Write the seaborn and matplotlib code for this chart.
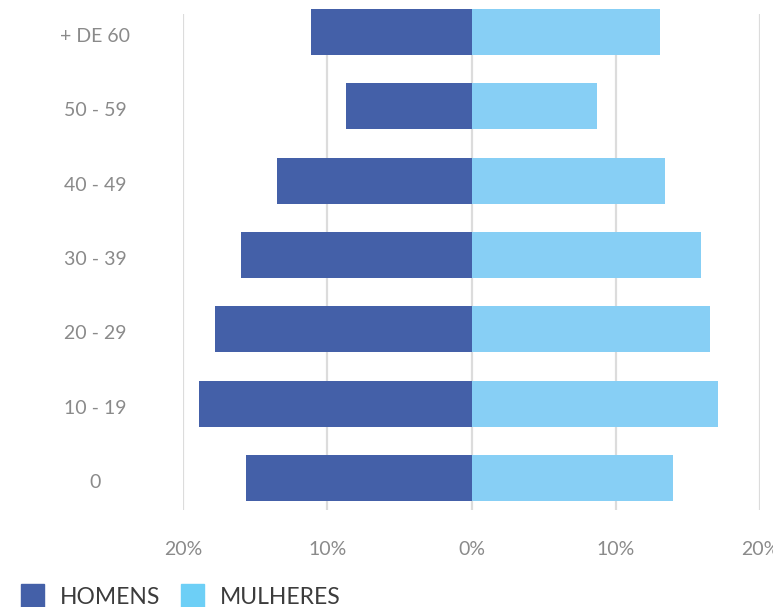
import matplotlib
matplotlib.use("Agg")
import matplotlib.pyplot as plt
from matplotlib.patches import Patch
from matplotlib.ticker import FuncFormatter
from matplotlib.transforms import ScaledTranslation
import seaborn as sns
import pandas as pd

# Age groups (top to bottom) and share of population by sex, in percent
faixas = ["+ DE 60", "50 - 59", "40 - 49", "30 - 39", "20 - 29", "10 - 19", "0"]
homens = [11.1, 8.7, 13.5, 16.0, 17.8, 18.9, 15.6]
mulheres = [13.1, 8.7, 13.4, 15.9, 16.5, 17.1, 14.0]
xticks = [-20, -10, 0, 10, 20]

cor_homens = "#4460A8"
cor_mulheres = "#87CFF5"
cor_legenda_mulheres = "#6DCFF6"

df = pd.DataFrame({
    "faixa": faixas * 2,
    "valor": [-v for v in homens] + mulheres,
    "sexo": ["HOMENS"] * len(faixas) + ["MULHERES"] * len(faixas),
})

sns.set_theme(style="white")
plt.rcParams["font.family"] = ["Lato", "DejaVu Sans"]

fig = plt.figure(figsize=(7.73, 6.07), dpi=100)
ax = fig.add_axes([183 / 773, 1 - 510 / 607, 577 / 773, 496 / 607])

sns.barplot(
    data=df, y="faixa", x="valor", hue="sexo", order=faixas,
    hue_order=["HOMENS", "MULHERES"],
    palette={"HOMENS": cor_homens, "MULHERES": cor_mulheres},
    orient="h", dodge=False, width=0.62, saturation=1,
    linewidth=0, legend=False, ax=ax,
)
for p in ax.patches:
    p.set_clip_on(False)

ax.set_xlim(-20, 20)
ax.set_ylim(6.43, -0.24)
ax.set_xticks(xticks)
ax.xaxis.set_major_formatter(FuncFormatter(lambda v, _: f"{abs(v):.0f}%"))
ax.grid(axis="x", color="#dcdcdc", linewidth=1.6)
ax.set_axisbelow(True)
for s in ax.spines.values():
    s.set_visible(False)
ax.set_xlabel("")
ax.set_ylabel("")

ax.tick_params(axis="x", length=0, pad=22, labelsize=14, labelcolor="#8a8a8a")
ax.tick_params(axis="y", length=0, pad=63, labelsize=14, labelcolor="#8a8a8a")
shift = ScaledTranslation(0, -3 / 100, fig.dpi_scale_trans)
for t in ax.get_yticklabels():
    t.set_ha("center")
    t.set_va("center_baseline")
    t.set_transform(t.get_transform() + shift)

handles = [Patch(color=cor_homens, label="HOMENS"),
           Patch(color=cor_legenda_mulheres, label="MULHERES")]
fig.legend(handles=handles, loc="lower left", bbox_to_anchor=(0.0, -0.035),
           ncol=2, frameon=False, handlelength=1.0,
           handleheight=1.15, handletextpad=0.7, columnspacing=0.9,
           labelcolor="#3c3c3c", prop={"size": 16.5})

fig.savefig("out.png", dpi=100)
